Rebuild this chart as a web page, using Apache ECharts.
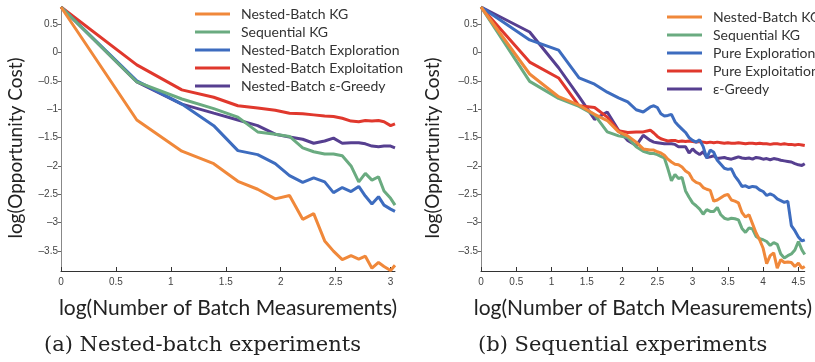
<!DOCTYPE html>
<html>
<head>
<meta charset="utf-8">
<script src="https://cdn.jsdelivr.net/npm/echarts@6/dist/echarts.min.js"></script>
<style>
  html, body { margin: 0; padding: 0; background: #fff; }
  #chart { width: 815px; height: 362px; }
</style>
</head>
<body>
<div id="chart"></div>
<script>
// (a) nested-batch: x = log(number of batch measurements)
const leftX = [0, 0.69, 1.10, 1.39, 1.61, 1.79, 1.95, 2.08, 2.20, 2.30, 2.40, 2.48, 2.56, 2.64, 2.71, 2.77, 2.83, 2.89, 2.94, 3.00, 3.04];
const leftKG = [0.8, -1.19, -1.74, -1.96, -2.27, -2.41, -2.58, -2.52, -2.94, -2.84, -3.32, -3.50, -3.65, -3.58, -3.64, -3.59, -3.80, -3.70, -3.77, -3.84, -3.75];
const leftSeqKG = [0.8, -0.52, -0.82, -0.99, -1.14, -1.40, -1.44, -1.48, -1.68, -1.75, -1.79, -1.79, -1.82, -2.00, -2.28, -2.13, -2.25, -2.19, -2.44, -2.57, -2.69];
const leftExplore = [0.8, -0.50, -0.91, -1.29, -1.73, -1.80, -1.96, -2.17, -2.29, -2.21, -2.28, -2.47, -2.38, -2.45, -2.36, -2.53, -2.67, -2.54, -2.69, -2.76, -2.80];
const leftExploit = [0.8, -0.22, -0.66, -0.79, -0.94, -0.98, -1.02, -1.07, -1.08, -1.10, -1.12, -1.13, -1.16, -1.21, -1.22, -1.20, -1.21, -1.20, -1.22, -1.29, -1.26];
const leftGreedy = [0.8, -0.52, -0.91, -1.07, -1.19, -1.29, -1.44, -1.49, -1.53, -1.60, -1.56, -1.51, -1.60, -1.59, -1.59, -1.61, -1.65, -1.66, -1.65, -1.65, -1.68];

// (b) sequential
const rightX = [0, 0.69, 1.10, 1.39, 1.61, 1.79, 1.95, 2.08, 2.20, 2.30, 2.40,
  2.45, 2.50, 2.55, 2.60, 2.65, 2.70, 2.75, 2.80, 2.85, 2.90, 2.95, 3.00, 3.05, 3.10, 3.15, 3.20, 3.25, 3.30, 3.35, 3.40,
  3.45, 3.50, 3.55, 3.60, 3.65, 3.70, 3.75, 3.80, 3.85, 3.90, 3.95, 4.00, 4.05, 4.10, 4.15, 4.20, 4.25, 4.30, 4.35, 4.40,
  4.45, 4.50, 4.55, 4.59];
const rightKG = [0.8, -0.38, -0.78, -0.93, -1.09, -1.20, -1.40, -1.47, -1.58, -1.70, -1.72,
  -1.72, -1.75, -1.77, -1.81, -1.88, -1.93, -1.97, -1.98, -2.02, -2.09, -2.13, -2.24, -2.29, -2.31, -2.38, -2.41, -2.43, -2.62, -2.60, -2.56,
  -2.52, -2.50, -2.60, -2.62, -2.65, -2.82, -2.90, -2.86, -3.02, -3.18, -3.30, -3.45, -3.72, -3.58, -3.53, -3.80, -3.65, -3.70, -3.69, -3.70,
  -3.77, -3.71, -3.80, -3.77];
const rightSeqKG = [0.8, -0.51, -0.81, -0.95, -1.10, -1.40, -1.47, -1.50, -1.66, -1.74, -1.78,
  -1.78, -1.80, -1.83, -1.86, -2.05, -2.26, -2.15, -2.22, -2.20, -2.44, -2.55, -2.65, -2.70, -2.76, -2.85, -2.77, -2.80, -2.80, -2.73, -2.86,
  -2.92, -2.94, -2.92, -2.93, -2.95, -3.10, -3.17, -3.09, -3.11, -3.24, -3.28, -3.30, -3.33, -3.40, -3.35, -3.38, -3.55, -3.62, -3.58, -3.55,
  -3.48, -3.33, -3.48, -3.56];
const rightExplore = [0.8, 0.22, 0.04, -0.45, -0.56, -0.70, -0.80, -0.87, -1.01, -1.05, -0.96,
  -0.94, -0.97, -1.08, -1.12, -1.11, -1.09, -1.22, -1.29, -1.35, -1.41, -1.50, -1.55, -1.58, -1.54, -1.66, -1.86, -1.72, -1.76, -1.90, -1.97,
  -2.04, -2.06, -2.05, -2.18, -2.26, -2.36, -2.35, -2.38, -2.36, -2.37, -2.42, -2.45, -2.52, -2.49, -2.52, -2.58, -2.61, -2.64, -2.62, -3.05,
  -3.14, -3.25, -3.32, -3.30];
const rightExploit = [0.8, -0.17, -0.45, -0.94, -0.97, -1.14, -1.38, -1.41, -1.40, -1.40, -1.37,
  -1.42, -1.48, -1.52, -1.54, -1.56, -1.55, -1.55, -1.57, -1.56, -1.57, -1.56, -1.57, -1.58, -1.57, -1.58, -1.59, -1.58, -1.59, -1.58, -1.59,
  -1.60, -1.59, -1.60, -1.60, -1.59, -1.60, -1.61, -1.60, -1.60, -1.61, -1.60, -1.61, -1.61, -1.62, -1.61, -1.61, -1.62, -1.61, -1.62, -1.62,
  -1.63, -1.62, -1.63, -1.64];
const rightGreedy = [0.8, 0.36, -0.27, -0.78, -1.18, -1.05, -1.37, -1.55, -1.64, -1.46, -1.55,
  -1.58, -1.59, -1.60, -1.61, -1.61, -1.61, -1.62, -1.66, -1.66, -1.66, -1.77, -1.70, -1.76, -1.80, -1.75, -1.85, -1.84, -1.82, -1.87, -1.86,
  -1.85, -1.87, -1.88, -1.86, -1.84, -1.86, -1.87, -1.86, -1.88, -1.85, -1.86, -1.88, -1.87, -1.89, -1.87, -1.88, -1.90, -1.91, -1.92, -1.93,
  -1.96, -1.98, -1.99, -1.96];

const yTicks = [-3.5, -3, -2.5, -2, -1.5, -1, -0.5, 0, 0.5];
const leftXTicks = [0, 0.5, 1, 1.5, 2, 2.5, 3];
const rightXTicks = [0, 0.5, 1, 1.5, 2, 2.5, 3, 3.5, 4, 4.5];

const leftNames = ['Nested-Batch KG', 'Sequential KG', 'Nested-Batch Exploration', 'Nested-Batch Exploitation', 'Nested-Batch \u03b5-Greedy'];
const rightNames = ['Nested-Batch KG', 'Sequential KG', 'Pure Exploration', 'Pure Exploitation', '\u03b5-Greedy'];
const colors = ['#f0883a', '#6aab80', '#3d6cbf', '#e0382d', '#563f90'];

const sans = 'Lato';
const fmt = v => String(v).replace('-', '\u2013');

function xAxis(gridIndex, max, ticks) {
  return {
    type: 'value', gridIndex, min: 0, max,
    name: 'log(Number of Batch Measurements)',
    nameLocation: 'middle', nameGap: 27,
    nameTextStyle: { fontFamily: sans, fontSize: 21, color: '#222' },
    axisLine: { onZero: false, lineStyle: { color: '#333', width: 1 } },
    axisTick: { inside: true, length: 4, lineStyle: { color: '#333' }, customValues: ticks },
    axisLabel: { customValues: ticks, formatter: fmt, fontFamily: 'Liberation Sans', fontSize: 10, color: '#444', margin: 6 },
    splitLine: { show: false }
  };
}

function yAxis(gridIndex, gap) {
  return {
    type: 'value', gridIndex, min: -3.85, max: 0.8,
    name: 'log(Opportunity Cost)',
    nameLocation: 'middle', nameGap: gap, nameRotate: 90,
    nameTextStyle: { fontFamily: sans, fontSize: 19, color: '#222', padding: [0, 18, 0, 0] },
    axisLine: { onZero: false, lineStyle: { color: '#888', width: 1 } },
    axisTick: { inside: false, length: 3, lineStyle: { color: '#666' }, customValues: yTicks },
    axisLabel: { customValues: yTicks, formatter: fmt, fontFamily: 'Liberation Sans', fontSize: 10, color: '#444', margin: 3 },
    splitLine: { show: false }
  };
}

function lines(xs, ys, names, idx) {
  return ys.map((arr, i) => ({
    name: names[i], type: 'line', xAxisIndex: idx, yAxisIndex: idx,
    data: arr.map((v, j) => [xs[j], v]),
    showSymbol: false, symbol: 'none',
    lineStyle: { color: colors[i], width: 3 },
    itemStyle: { color: colors[i] },
    z: i === 0 ? 6 : 5 - i
  }));
}

function legend(names, left, top, pad) {
  return {
    data: names, orient: 'vertical', left, top,
    icon: 'rect', itemWidth: 35, itemHeight: 3, itemGap: 0,
    textStyle: { fontFamily: sans, fontSize: 14, color: '#333', lineHeight: 18, padding: [0, 0, 0, pad] }
  };
}

const chart = echarts.init(document.getElementById('chart'));
chart.setOption({
  animation: false,
  backgroundColor: '#fff',
  color: colors,
  grid: [
    { left: 61, top: 7, width: 334, height: 264 },
    { left: 481, top: 7, width: 334, height: 264 }
  ],
  xAxis: [xAxis(0, 3.04, leftXTicks), xAxis(1, 4.59, rightXTicks)],
  yAxis: [yAxis(0, 36), yAxis(1, 39)],
  legend: [legend(leftNames, 190, 0, 6), legend(rightNames, 662, 3, 6)],
  series: [
    ...lines(leftX, [leftKG, leftSeqKG, leftExplore, leftExploit, leftGreedy], leftNames, 0),
    ...lines(rightX, [rightKG, rightSeqKG, rightExplore, rightExploit, rightGreedy], rightNames, 1)
  ],
  graphic: [
    { type: 'text', left: 44, top: 335, style: { text: '(a) Nested-batch experiments', fontFamily: 'DejaVu Serif', fontSize: 21, fill: '#222' } },
    { type: 'text', left: 478, top: 335, style: { text: '(b) Sequential experiments', fontFamily: 'DejaVu Serif', fontSize: 21, fill: '#222' } }
  ]
});
</script>
</body>
</html>
